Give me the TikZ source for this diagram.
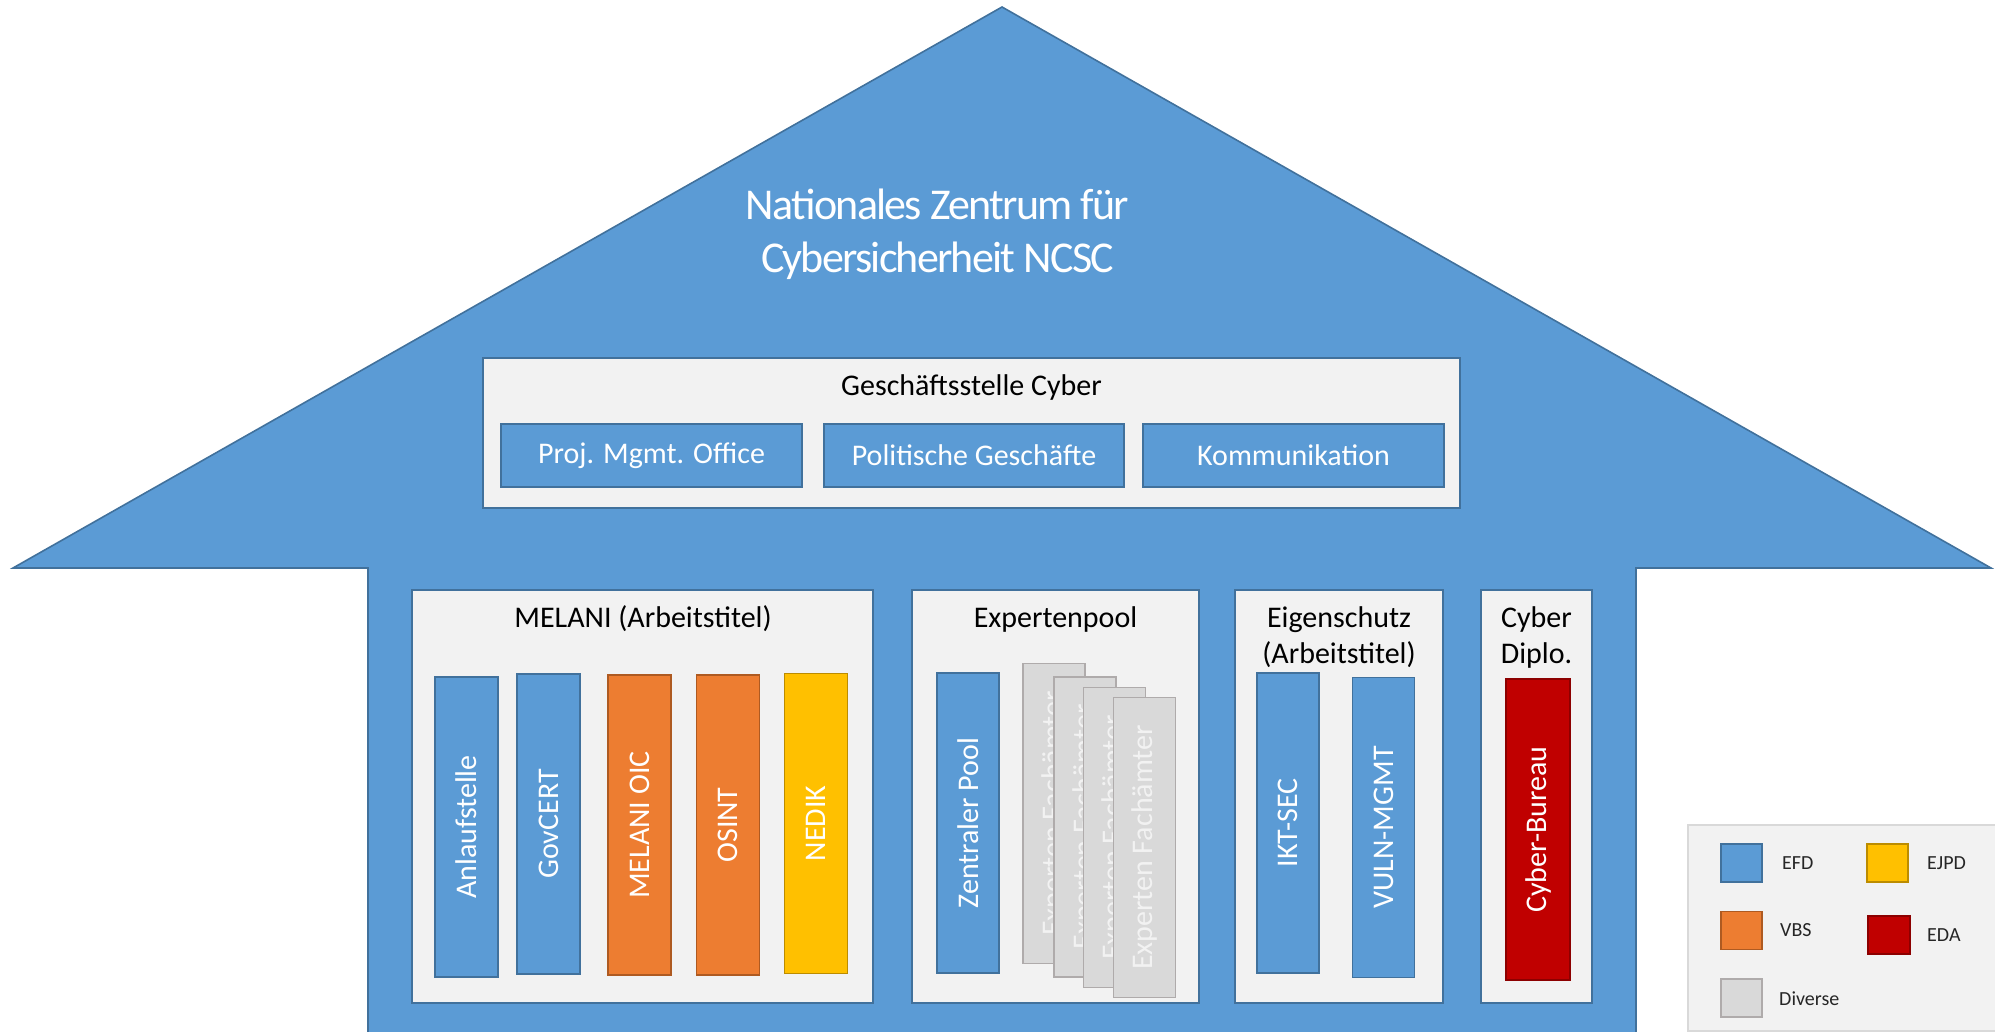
\documentclass[tikz,border=0pt]{standalone}
\usepackage{fontspec}
\setmainfont{Carlito}
\definecolor{nblue}{HTML}{5B9BD5}
\definecolor{nblueD}{HTML}{41719C}
\definecolor{pgray}{HTML}{F2F2F2}
\definecolor{norange}{HTML}{ED7D31}
\definecolor{norangeD}{HTML}{AE5A21}
\definecolor{nyellow}{HTML}{FFC000}
\definecolor{nyellowD}{HTML}{BC8C00}
\definecolor{nred}{HTML}{C00000}
\definecolor{nredD}{HTML}{8C0000}
\definecolor{ngray}{HTML}{D9D9D9}
\definecolor{ngrayD}{HTML}{AFABAB}
\definecolor{legline}{HTML}{D9D9D9}
\definecolor{legtext}{HTML}{262626}
\tikzset{
  house/.style={fill=nblue, draw=nblueD, line width=1.6pt, line join=miter},
  panel/.style={fill=pgray, draw=nblueD, line width=1.6pt, inner sep=0pt, outer sep=0pt},
  ptitle/.style={font=\fontsize{30}{36.6}\selectfont, text=black, anchor=base, inner sep=0pt},
  pillar/.style={line width=1.6pt, inner sep=0pt, outer sep=0pt, rotate=90,
    minimum width=300, minimum height=63, text=white, font=\fontsize{30}{36}\selectfont},
  efd/.style={fill=nblue, draw=nblueD},
  vbs/.style={fill=norange, draw=norangeD},
  ejpd/.style={fill=nyellow, draw=nyellowD},
  eda/.style={fill=nred, draw=nredD},
  div/.style={fill=ngray, draw=ngrayD, text=pgray},
  subbox/.style={fill=nblue, draw=nblueD, line width=1.6pt, inner sep=0pt, outer sep=0pt,
    minimum height=63, text=white, font=\fontsize{30}{36}\selectfont},
  swatch/.style={line width=1.6pt, minimum width=41, minimum height=38, inner sep=0pt},
  legt/.style={anchor=west, inner sep=0pt, text=legtext, font=\fontsize{20}{24}\selectfont},
}
\begin{document}
\begin{tikzpicture}[x=1pt,y=-1pt]
\useasboundingbox (0,0) rectangle (1995,1032);
\begin{scope}
\clip (0,0) rectangle (1995,1032);
% house
\draw[house] (13,568) -- (1002,7) -- (1991,568) -- (1636,568) -- (1636,1045) -- (368,1045) -- (368,568) -- cycle;
% title
\node[anchor=base, inner sep=0pt, text=white, font=\fontsize{44}{53}\selectfont\addfontfeatures{LetterSpace=-4}] (title1) at (937.5,220) {Nationales Zentrum für};
\node[anchor=base, inner sep=0pt, text=white, font=\fontsize{44}{53}\selectfont\addfontfeatures{LetterSpace=-4}] (title2) at (937.5,273) {Cybersicherheit NCSC};
% Geschaeftsstelle
\node[panel, minimum width=977, minimum height=150] (gs) at (971.5,433) {};
\node[ptitle] (gst) at (971.5,395) {Geschäftsstelle Cyber};
\node[subbox, minimum width=301] (pmo) at (651.5,455.5) {Proj. Mgmt. Office};
\node[subbox, minimum width=300] (pol) at (974,455.5) {Politische Geschäfte};
\node[subbox, minimum width=301] (kom) at (1293.5,455.5) {Kommunikation};
% MELANI
\node[panel, minimum width=461, minimum height=413] (mel) at (642.5,796.5) {};
\node[ptitle] (melt) at (643,627) {MELANI (Arbeitstitel)};
\node[pillar, efd] (anl) at (466.5,827) {Anlaufstelle};
\node[pillar, efd] (gov) at (548.5,824) {GovCERT};
\node[pillar, vbs] (oic) at (639.5,825) {MELANI OIC};
\node[pillar, vbs] (osint) at (728,825) {OSINT};
\node[pillar, ejpd] (nedik) at (816,823.5) {NEDIK};
% Expertenpool
\node[panel, minimum width=287, minimum height=413] (exp) at (1055.5,796.5) {};
\node[ptitle] (expt) at (1055.5,627) {Expertenpool};
\node[pillar, efd, minimum height=62] (zp) at (968,823) {Zentraler Pool};
\node[pillar, div, minimum height=62] (fa1) at (1054,813.5) {Experten Fachämter};
\node[pillar, div, minimum height=62] (fa2) at (1085,827) {Experten Fachämter};
\node[pillar, div, minimum height=62] (fa3) at (1114.5,837.5) {Experten Fachämter};
\node[pillar, div, minimum height=62] (fa4) at (1144.5,847.5) {Experten Fachämter};
% Eigenschutz
\node[panel, minimum width=208, minimum height=413] (eig) at (1339,796.5) {};
\node[ptitle] (eigt1) at (1339,627) {Eigenschutz};
\node[ptitle] (eigt2) at (1339,663) {(Arbeitstitel)};
\node[pillar, efd, minimum height=62] (ikt) at (1288,823) {IKT-SEC};
\node[pillar, efd, minimum height=62] (vuln) at (1383.5,827.5) {VULN-MGMT};
% Cyber Diplo
\node[panel, minimum width=111, minimum height=413] (cd) at (1536.5,796.5) {};
\node[ptitle] (cdt1) at (1536.5,627) {Cyber};
\node[ptitle] (cdt2) at (1536.5,663) {Diplo.};
\node[pillar, eda, minimum width=301, minimum height=64] (cb) at (1538,829.5) {Cyber-Bureau};
% Legend
\node[fill=pgray, draw=legline, line width=1.6pt, minimum width=320, minimum height=206, inner sep=0pt, anchor=north west] (leg) at (1687,824) {};
\node[swatch, efd] (sefd) at (1741.5,863) {};
\node[legt] (lefd) at (1782,863) {EFD};
\node[swatch, ejpd] (sejpd) at (1887.5,863) {};
\node[legt] (lejpd) at (1927,863) {EJPD};
\node[swatch, vbs] (svbs) at (1741.5,930.5) {};
\node[legt] (lvbs) at (1780,930.5) {VBS};
\node[swatch, eda, minimum width=42] (seda) at (1889,935) {};
\node[legt] (leda) at (1927,935) {EDA};
\node[swatch, div] (sdiv) at (1741.5,998) {};
\node[legt] (ldiv) at (1779,999) {Diverse};
\end{scope}
\end{tikzpicture}
\end{document}
